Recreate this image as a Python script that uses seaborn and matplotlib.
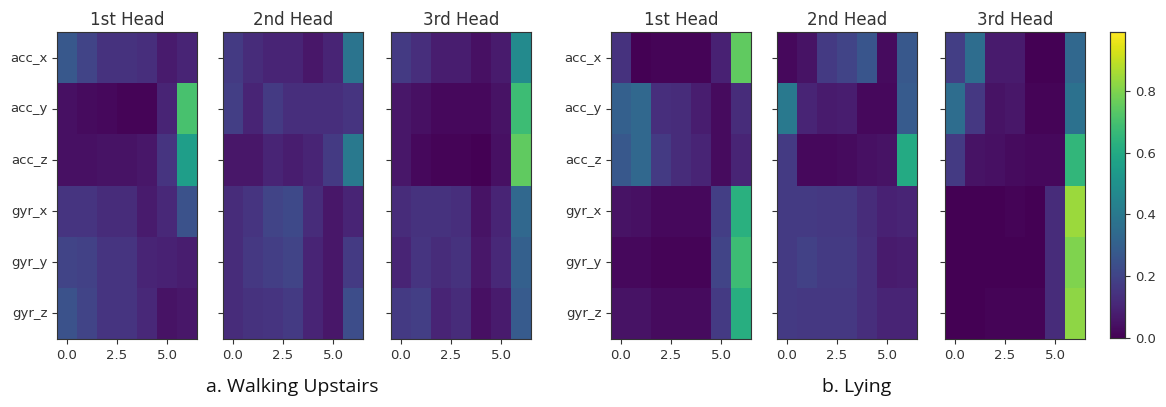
import numpy as np
import pandas as pd
import matplotlib
matplotlib.use("Agg")
import matplotlib.pyplot as plt
import seaborn as sns

sensors = ["acc_x", "acc_y", "acc_z", "gyr_x", "gyr_y", "gyr_z"]
steps = list(range(7))
head_titles = ["1st Head", "2nd Head", "3rd Head"]
x_tick_labels = ["0.0", "2.5", "5.0"]
x_tick_values = [0.0, 2.5, 5.0]
cbar_ticks = [0.0, 0.2, 0.4, 0.6, 0.8]
captions = ["a. Walking Upstairs", "b. Lying"]

walk_head1 = [
    [0.27, 0.20, 0.14, 0.14, 0.13, 0.07, 0.10],
    [0.04, 0.03, 0.02, 0.01, 0.01, 0.10, 0.70],
    [0.04, 0.04, 0.05, 0.05, 0.06, 0.15, 0.55],
    [0.15, 0.15, 0.12, 0.12, 0.07, 0.11, 0.25],
    [0.20, 0.19, 0.15, 0.15, 0.10, 0.09, 0.08],
    [0.25, 0.20, 0.15, 0.15, 0.11, 0.05, 0.06],
]
walk_head2 = [
    [0.17, 0.12, 0.10, 0.10, 0.06, 0.10, 0.38],
    [0.18, 0.10, 0.17, 0.13, 0.13, 0.13, 0.15],
    [0.06, 0.06, 0.10, 0.08, 0.10, 0.17, 0.40],
    [0.12, 0.15, 0.20, 0.22, 0.12, 0.06, 0.10],
    [0.12, 0.16, 0.18, 0.20, 0.10, 0.06, 0.17],
    [0.12, 0.14, 0.15, 0.17, 0.10, 0.06, 0.23],
]
walk_head3 = [
    [0.17, 0.13, 0.08, 0.08, 0.04, 0.07, 0.47],
    [0.06, 0.04, 0.02, 0.02, 0.02, 0.05, 0.68],
    [0.06, 0.02, 0.01, 0.01, 0.00, 0.04, 0.75],
    [0.12, 0.14, 0.14, 0.13, 0.05, 0.10, 0.33],
    [0.10, 0.15, 0.12, 0.14, 0.06, 0.11, 0.30],
    [0.17, 0.18, 0.10, 0.12, 0.04, 0.07, 0.28],
]
lying_head1 = [
    [0.14, 0.00, 0.01, 0.01, 0.01, 0.09, 0.75],
    [0.30, 0.33, 0.13, 0.12, 0.08, 0.03, 0.12],
    [0.27, 0.33, 0.17, 0.12, 0.10, 0.03, 0.10],
    [0.05, 0.04, 0.02, 0.02, 0.02, 0.18, 0.63],
    [0.02, 0.02, 0.01, 0.01, 0.01, 0.20, 0.68],
    [0.05, 0.05, 0.03, 0.03, 0.03, 0.17, 0.62],
]
lying_head2 = [
    [0.02, 0.05, 0.17, 0.20, 0.26, 0.03, 0.27],
    [0.40, 0.10, 0.07, 0.08, 0.02, 0.02, 0.28],
    [0.17, 0.02, 0.02, 0.03, 0.04, 0.05, 0.60],
    [0.17, 0.17, 0.16, 0.16, 0.12, 0.09, 0.10],
    [0.17, 0.19, 0.17, 0.17, 0.13, 0.07, 0.08],
    [0.17, 0.16, 0.16, 0.16, 0.13, 0.10, 0.10],
]
lying_head3 = [
    [0.18, 0.35, 0.07, 0.07, 0.00, 0.00, 0.33],
    [0.35, 0.16, 0.05, 0.06, 0.01, 0.01, 0.37],
    [0.17, 0.05, 0.04, 0.03, 0.02, 0.02, 0.65],
    [0.00, 0.00, 0.00, 0.01, 0.00, 0.12, 0.84],
    [0.00, 0.00, 0.00, 0.00, 0.00, 0.12, 0.80],
    [0.00, 0.00, 0.01, 0.01, 0.01, 0.12, 0.82],
]

VMIN, VMAX = 0.0, 0.99

W, H = 1166, 407
fig = plt.figure(figsize=(W / 100, H / 100), dpi=100)

ax_lefts = [57, 223, 391, 611, 777, 945]
ax_w = 140
top_px, bot_px = 32, 339

panels = [walk_head1, walk_head2, walk_head3, lying_head1, lying_head2, lying_head3]
cax = fig.add_axes([1110 / W, (H - bot_px + 1) / H, 15 / W, (bot_px - top_px - 1) / H])

for i, (left, data) in enumerate(zip(ax_lefts, panels)):
    ax = fig.add_axes([left / W, (H - bot_px) / H, ax_w / W, (bot_px - top_px) / H])
    df = pd.DataFrame(data, index=sensors, columns=steps)
    last = (i == len(panels) - 1)
    sns.heatmap(df, ax=ax, cmap="viridis", vmin=VMIN, vmax=VMAX,
                cbar=last, cbar_ax=cax if last else None,
                xticklabels=True, yticklabels=True)
    ax.set_xticks([v + 0.5 for v in x_tick_values])
    ax.set_xticklabels(x_tick_labels, rotation=0, fontsize=9.5, color="#333333")
    ax.set_yticks([k + 0.5 for k in range(len(sensors))])
    if i % 3 == 0:
        ax.set_yticklabels(sensors, rotation=0, fontsize=9.5, color="#333333")
    else:
        ax.set_yticklabels([])
    ax.tick_params(axis="both", length=3.5, width=0.8, color="#333333")
    ax.set_xlabel("")
    ax.set_ylabel("")
    ax.set_title(head_titles[i % 3], fontsize=12, color="#333333", pad=5)
    for s in ax.spines.values():
        s.set_visible(True)
        s.set_linewidth(0.8)
        s.set_color("#333333")

cax.set_yticks(cbar_ticks)
cax.set_yticklabels([f"{t:.1f}" for t in cbar_ticks], fontsize=9.5, color="#333333")
cax.tick_params(length=3.5, width=0.8, color="#333333")
for s in cax.spines.values():
    s.set_visible(True)
    s.set_linewidth(0.8)
    s.set_color("#333333")

fig.text(292 / W, 1 - 387 / H, captions[0], ha="center", va="center",
         fontsize=14, family=["Open Sans", "DejaVu Sans"], color="#111111")
fig.text(857 / W, 1 - 387 / H, captions[1], ha="center", va="center",
         fontsize=14, family=["Open Sans", "DejaVu Sans"], color="#111111")

fig.savefig("out.png", dpi=100)
